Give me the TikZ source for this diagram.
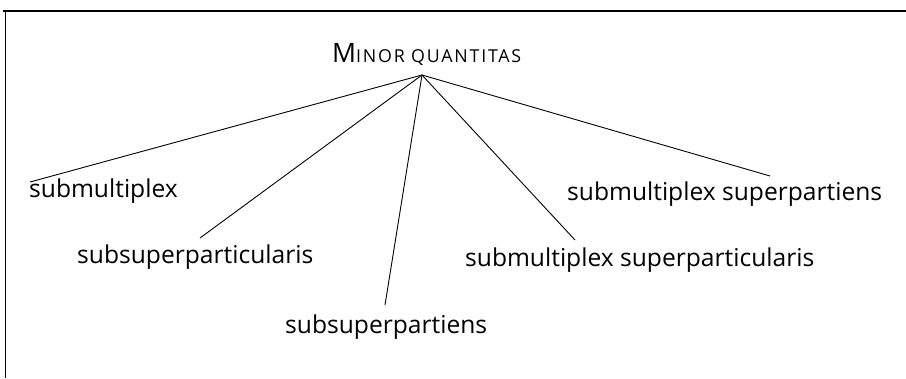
\documentclass[tikz,border=0pt]{standalone}
\usepackage{fontspec}
\setmainfont{Open Sans}
\begin{document}
\begin{tikzpicture}[x=1pt,y=-1pt,
  lbl/.style={inner sep=0pt,anchor=base west,font=\fontsize{24.6}{28}\selectfont},
  branch/.style={line width=0.9pt}]
\useasboundingbox (0,0) rectangle (906,378);
\draw[line width=1.6pt] (3,11) -- (906,11);
\draw[line width=1pt] (5,11) -- (5,378);
\node[inner sep=0pt,anchor=base west] (title) at (332,62)
  {\addfontfeature{LetterSpace=10}\fontsize{26.6}{30}\selectfont M\fontsize{17.8}{20}\selectfont INOR QUANTITAS};
\coordinate (apex) at (422,75);
\node[lbl] (a) at (29,197) {submultiplex};
\node[lbl] (b) at (77,263) {subsuperparticularis};
\node[lbl] (c) at (285,333) {subsuperpartiens};
\node[lbl] (d) at (465,266) {submultiplex superparticularis};
\node[lbl] (e) at (567,200) {submultiplex superpartiens};
\coordinate (ea) at (30,182);
\coordinate (eb) at (200,238);
\coordinate (ec) at (385,305);
\coordinate (ed) at (575,240);
\coordinate (ee) at (770,176);
\foreach \t in {ea,eb,ec,ed,ee} \draw[branch] (apex) -- (\t);
\end{tikzpicture}
\end{document}
